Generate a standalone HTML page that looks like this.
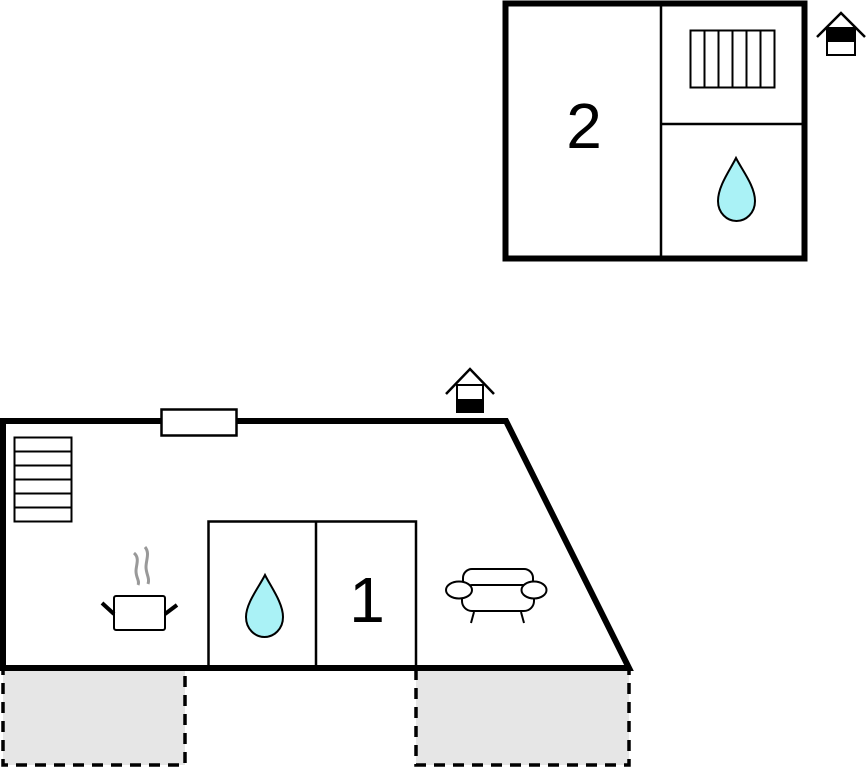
<!DOCTYPE html>
<html><head><meta charset="utf-8"><style>html,body{margin:0;padding:0;background:#fff;}svg{display:block}</style></head>
<body>
<svg width="866" height="768" viewBox="0 0 866 768" xmlns="http://www.w3.org/2000/svg">
<!-- top building -->
<rect x="505.5" y="3.5" width="299" height="255" fill="#fff" stroke="#000" stroke-width="6"/>
<line x1="661" y1="4" x2="661" y2="258" stroke="#000" stroke-width="2.5"/>
<line x1="661" y1="124" x2="804" y2="124" stroke="#000" stroke-width="2.5"/>
<rect x="690.5" y="30.5" width="84" height="57" fill="#fff" stroke="#000" stroke-width="2"/>
<g stroke="#000" stroke-width="2">
<line x1="704.5" y1="30" x2="704.5" y2="88"/><line x1="718.5" y1="30" x2="718.5" y2="88"/><line x1="732.5" y1="30" x2="732.5" y2="88"/><line x1="746.5" y1="30" x2="746.5" y2="88"/><line x1="760.5" y1="30" x2="760.5" y2="88"/>
</g>
<text x="584" y="148" font-family="Liberation Sans, sans-serif" font-size="64" text-anchor="middle">2</text>
<path d="M736,158 C730,170 718,186 718,201 C718,213 727,221 736.5,221 C746,221 755,213 755,201 C755,186 742,170 736,158 Z" fill="#aaf2f6" stroke="#000" stroke-width="2"/>
<!-- house icon top right -->
<polyline points="817,37 841,13 865,37" fill="none" stroke="#000" stroke-width="2.5"/>
<rect x="827" y="28" width="28" height="27" fill="#fff" stroke="#000" stroke-width="2"/>
<rect x="827" y="28" width="28" height="14" fill="#000"/>
<!-- gray dashed areas -->
<rect x="3" y="668" width="182" height="97" fill="#e6e6e6" stroke="#000" stroke-width="3.5" stroke-dasharray="11,8"/>
<rect x="416" y="668" width="213" height="97" fill="#e6e6e6" stroke="#000" stroke-width="3.5" stroke-dasharray="11,8"/>
<!-- bottom building -->
<polygon points="3,421 506,421 629,668 3,668" fill="#fff" stroke="#000" stroke-width="6" stroke-linejoin="miter"/>
<rect x="161.5" y="409.5" width="75" height="26" fill="#fff" stroke="#000" stroke-width="2.5"/>
<rect x="14.5" y="437.5" width="57" height="84" fill="#fff" stroke="#000" stroke-width="2"/>
<g stroke="#000" stroke-width="2">
<line x1="14" y1="451.5" x2="72" y2="451.5"/><line x1="14" y1="465.5" x2="72" y2="465.5"/><line x1="14" y1="479.5" x2="72" y2="479.5"/><line x1="14" y1="493.5" x2="72" y2="493.5"/><line x1="14" y1="507.5" x2="72" y2="507.5"/>
</g>
<rect x="208.5" y="521.5" width="207.5" height="146" fill="none" stroke="#000" stroke-width="2.5"/>
<line x1="316" y1="521" x2="316" y2="667" stroke="#000" stroke-width="2.5"/>
<path d="M265,575 C259,587 246,603 246,617 C246,629 255,637 264.5,637 C274,637 283,629 283,617 C283,603 271,587 265,575 Z" fill="#aaf2f6" stroke="#000" stroke-width="2"/>
<text x="367" y="622" font-family="Liberation Sans, sans-serif" font-size="64" text-anchor="middle">1</text>
<!-- pot -->
<path d="M134,553 C140,558 136,565 136,571 C136,578 140,581 138,585 M145,547 C150,553 146,560 146,567 C146,574 150,578 148,584" fill="none" stroke="#999" stroke-width="3"/>
<rect x="114" y="596" width="51" height="34" rx="2" fill="#fff" stroke="#000" stroke-width="2"/>
<line x1="102" y1="603" x2="114" y2="614" stroke="#000" stroke-width="4"/>
<line x1="165" y1="614" x2="177" y2="605" stroke="#000" stroke-width="4"/>
<!-- sofa -->
<g fill="#fff" stroke="#000" stroke-width="2">
<rect x="463" y="569" width="70" height="26" rx="9"/>
<rect x="462" y="585" width="72" height="26" rx="10"/>
<ellipse cx="459" cy="590" rx="13" ry="8.5"/>
<ellipse cx="534" cy="590" rx="12.5" ry="8.5"/>
<line x1="474" y1="612" x2="471" y2="623"/>
<line x1="521" y1="612" x2="524" y2="623"/>
</g>
<!-- house icon bottom -->
<polyline points="446,394 470,369 494,394" fill="none" stroke="#000" stroke-width="2.5"/>
<rect x="457" y="385" width="26" height="27" fill="#fff" stroke="#000" stroke-width="2"/>
<rect x="456" y="399" width="28" height="13" fill="#000"/>
</svg>
</body></html>
